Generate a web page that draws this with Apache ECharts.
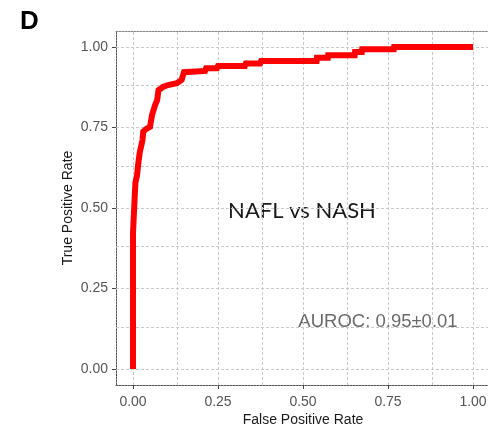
<!DOCTYPE html>
<html>
<head>
<meta charset="utf-8">
<style>html,body{margin:0;padding:0;background:#fff;}#c{width:488px;height:436px;}</style>
<script src="https://cdn.jsdelivr.net/npm/echarts@6/dist/echarts.min.js"></script>
</head>
<body>
<div id="c"></div>
<script>
const fpr = [0, 0, 0.005, 0.007, 0.012, 0.015, 0.02, 0.028, 0.03, 0.038, 0.05, 0.056, 0.065, 0.071, 0.075, 0.088, 0.103, 0.129, 0.143, 0.15, 0.153, 0.212, 0.215, 0.247, 0.25, 0.329, 0.332, 0.374, 0.377, 0.54, 0.541, 0.573, 0.574, 0.652, 0.653, 0.673, 0.674, 0.767, 0.768, 1.0];
const tpr = [0, 0.422, 0.422, 0.578, 0.602, 0.634, 0.674, 0.711, 0.737, 0.745, 0.752, 0.789, 0.82, 0.835, 0.866, 0.876, 0.882, 0.888, 0.898, 0.922, 0.926, 0.926, 0.934, 0.934, 0.941, 0.941, 0.949, 0.949, 0.957, 0.957, 0.967, 0.967, 0.975, 0.975, 0.985, 0.985, 0.993, 0.993, 1.0, 1.0];
const tickValues = [0, 0.25, 0.5, 0.75, 1];
const gridValues = [0, 0.125, 0.25, 0.375, 0.5, 0.625, 0.75, 0.875, 1];
const panelLabel = 'D';
const comparison = 'NAFL vs NASH';
const aurocText = 'AUROC: 0.95±0.01';
const xName = 'False Positive Rate';
const yName = 'True Positive Rate';

const chart = echarts.init(document.getElementById('c'), null, {renderer: 'canvas'});
const gridLineStyle = {color: '#c9c9c9', width: 1, type: [3, 2]};
const markData = [];
gridValues.forEach(v => { markData.push({xAxis: v}); markData.push({yAxis: v}); });

const labelStyle = {fontFamily: 'Liberation Sans', fontSize: 14, color: '#555'};
chart.setOption({
  animation: false,
  backgroundColor: '#fff',
  grid: {left: 116, top: 31, width: 374, height: 354, containLabel: false, outerBoundsMode: 'none'},
  xAxis: [{
    type: 'value', min: -0.05, max: 1.05,
    name: xName, nameLocation: 'middle', nameGap: 28, nameMoveOverlap: false,
    nameTextStyle: {fontFamily: 'Liberation Sans', fontSize: 14, color: '#1a1a1a'},
    axisLine: {show: true, onZero: false, lineStyle: {color: '#555', width: 1, type: [2, 1]}},
    axisTick: {show: true, customValues: tickValues, length: 4, lineStyle: {color: '#444'}},
    axisLabel: Object.assign({customValues: tickValues, margin: 10, formatter: v => v.toFixed(2)}, labelStyle),
    splitLine: {show: false}
  }, {
    type: 'value', min: -0.05, max: 1.05, position: 'top',
    axisLine: {show: true, onZero: false, lineStyle: {color: '#888', width: 1, type: [2, 1]}},
    axisTick: {show: false}, axisLabel: {show: false}, splitLine: {show: false}
  }],
  yAxis: [{
    type: 'value', min: -0.05, max: 1.05,
    name: yName, nameLocation: 'middle', nameGap: 41, nameMoveOverlap: false,
    nameTextStyle: {fontFamily: 'Liberation Sans', fontSize: 14, color: '#1a1a1a'},
    axisLine: {show: true, onZero: false, lineStyle: {color: '#555', width: 1, type: [2, 1]}},
    axisTick: {show: true, customValues: tickValues, length: 4, lineStyle: {color: '#444'}},
    axisLabel: Object.assign({customValues: tickValues, margin: 8, formatter: v => v.toFixed(2)}, labelStyle),
    splitLine: {show: false}
  }],
  series: [{
    type: 'line', data: [], z: 1, silent: true,
    markLine: {silent: true, symbol: 'none', label: {show: false}, lineStyle: gridLineStyle, animation: false, data: markData}
  }, {
    type: 'line', z: 5, symbol: 'none', showSymbol: false,
    data: fpr.map((x, i) => [x, tpr[i]]),
    lineStyle: {color: '#ff0000', width: 6, join: 'miter'}
  }],
  graphic: [
    {type: 'text', x: 20, y: 22, style: {text: panelLabel, fontFamily: 'Liberation Sans', fontSize: 26, fontWeight: 'bold', fill: '#000', align: 'left', verticalAlign: 'middle'}},
    {type: 'text', x: 302, y: 211, style: {text: comparison, fontFamily: 'Lato', fontSize: 22, fill: '#1a1a1a', align: 'center', verticalAlign: 'middle'}},
    {type: 'text', x: 378, y: 322, style: {text: aurocText, fontFamily: 'Liberation Sans', fontSize: 18.5, fill: '#6a6a6a', align: 'center', verticalAlign: 'middle'}}
  ]
});
</script>
</body>
</html>
